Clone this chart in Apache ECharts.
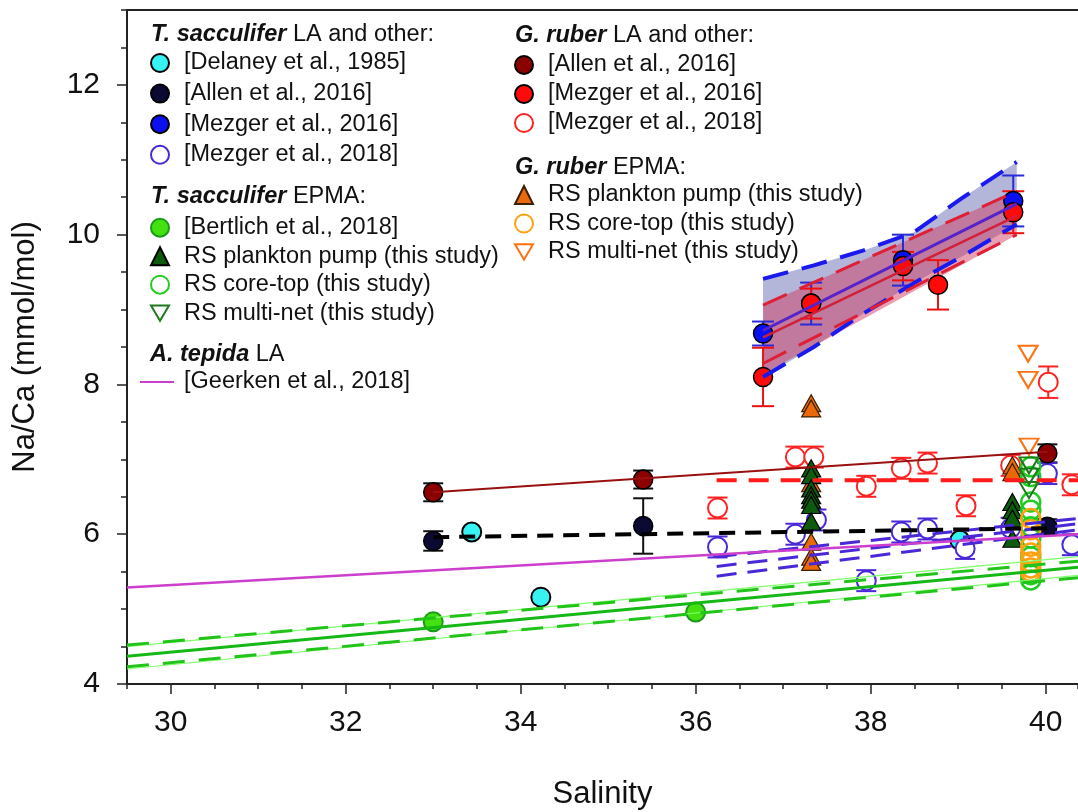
<!DOCTYPE html>
<html><head><meta charset="utf-8">
<script src="https://cdn.jsdelivr.net/npm/echarts@6/dist/echarts.min.js"></script>
<style>html,body{margin:0;padding:0;background:#fff}#c{width:1078px;height:812px}</style>
</head><body><div id="c"></div>
<script>
const FONT = 'Liberation Sans, Arial, Helvetica, sans-serif';
const xTicksMajor = [30, 32, 34, 36, 38, 40];
const yTicksMajor = [4, 6, 8, 10, 12];

// ---- T. sacculifer LA and other ----
const tsDelaney1985 = [[33.44, 6.03], [34.23, 5.16], [39.02, 5.92]];
const tsAllen2016 = [[33.00, 5.91], [35.40, 6.11], [40.02, 6.10]];
const tsAllen2016Err = [0.13, 0.37, 0.10];
const tsMezger2016 = [[36.77, 8.68], [37.32, 9.08], [38.37, 9.66], [39.63, 10.45]];
const tsMezger2016Err = [0.16, 0.28, 0.34, 0.34];
const tsMezger2018 = [[36.25, 5.83], [37.14, 6.00], [37.38, 6.19], [37.95, 5.38], [38.35, 6.03], [38.65, 6.07], [39.08, 5.81], [39.60, 6.08], [40.02, 6.81], [40.30, 5.86]];
const tsMezger2018Err = [0.14, 0.14, 0.14, 0.14, 0.14, 0.14, 0.14, 0.14, 0.14, 0.14];
// ---- T. sacculifer EPMA ----
const tsBertlich2018 = [[33.00, 4.83], [36.00, 4.96]];
const tsPlanktonPump = [[37.32, 6.88], [37.32, 6.79], [37.32, 6.61], [37.32, 6.52], [37.32, 6.46], [37.32, 6.39], [37.32, 6.17], [39.62, 6.43], [39.62, 6.32], [39.62, 6.21], [39.62, 5.94]];
const tsCoreTop = [[39.83, 6.90], [39.83, 6.77], [39.83, 6.43], [39.83, 6.32], [39.83, 6.10], [39.83, 5.95], [39.83, 5.70], [39.83, 5.46], [39.83, 5.39]];
const tsMultiNet = [[39.81, 6.92], [39.81, 6.77], [39.81, 6.59]];
// ---- A. tepida LA (Geerken) ----
const atGeerkenX = [29.5, 40.37];
const atGeerkenY = [5.29, 6.00];
// ---- G. ruber LA and other ----
const grAllen2016 = [[33.00, 6.56], [35.40, 6.73], [40.02, 7.08]];
const grAllen2016Err = [0.12, 0.12, 0.12];
const grMezger2016 = [[36.77, 8.10], [37.32, 9.08], [38.37, 9.58], [38.77, 9.33], [39.63, 10.30]];
const grMezger2016Err = [0.39, 0.20, 0.19, 0.33, 0.28];
const grMezger2018 = [[36.25, 6.35], [37.14, 7.03], [37.35, 7.03], [37.95, 6.64], [38.35, 6.88], [38.65, 6.95], [39.09, 6.38], [39.60, 6.92], [40.03, 8.03], [40.30, 6.66]];
const grMezger2018Err = [0.14, 0.14, 0.14, 0.14, 0.14, 0.14, 0.14, 0.14, 0.21, 0.14];
// ---- G. ruber EPMA ----
const grPlanktonPump = [[37.32, 7.75], [37.32, 7.68], [37.32, 6.68], [37.32, 5.90], [37.32, 5.70], [37.32, 5.63], [39.62, 6.92], [39.62, 6.83]];
const grCoreTop = [[39.83, 6.21], [39.83, 6.06], [39.83, 5.84], [39.83, 5.75], [39.83, 5.63], [39.83, 5.55], [39.83, 5.50]];
const grMultiNet = [[39.80, 8.41], [39.80, 8.06], [39.81, 7.17]];

// ---- regression lines ----
const bertFitX = [29.5, 40.37];
const bertFitMid = [4.37, 5.56];
const bertFitUp = [4.52, 5.64];
const bertFitLo = [4.23, 5.42];
const bertPredUp = [4.50, 5.70];
const bertPredLo = [4.20, 5.45];
const tsAllenFitX = [33.0, 40.02];
const tsAllenFitY = [5.96, 6.08];
const grAllenFitX = [33.0, 40.02];
const grAllenFitY = [6.56, 7.10];
const grMez18FitX = [36.24, 40.37];
const grMez18FitY = [6.72, 6.72];
const tsMez18FitX = [36.24, 40.37];
const tsMez18FitUp = [5.70, 6.21];
const tsMez18FitMid = [5.57, 6.14];
const tsMez18FitLo = [5.44, 6.06];
const tsMez16FitX = [36.77, 39.67];
const tsMez16FitY = [8.72, 10.41];
const tsMez16BandX = [36.77, 37.35, 37.92, 38.49, 39.06, 39.67];
const tsMez16BandUp = [9.41, 9.59, 9.79, 10.03, 10.50, 10.97];
const tsMez16BandLo = [8.10, 8.50, 8.95, 9.35, 9.72, 10.14];
const grMez16FitX = [36.77, 39.67];
const grMez16FitY = [8.63, 10.25];
const grMez16FitUp = [9.06, 10.58];
const grMez16FitLo = [8.28, 10.00];
const grMez16FillLo = [8.14, 10.00];

const legendLabels = {
  tsDelaney: '[Delaney et al., 1985]', tsAllen: '[Allen et al., 2016]', tsMez16: '[Mezger et al., 2016]', tsMez18: '[Mezger et al., 2018]',
  tsBert: '[Bertlich et al., 2018]', tsPump: 'RS plankton pump (this study)', tsCore: 'RS core-top (this study)', tsNet: 'RS multi-net (this study)',
  atGeerken: '[Geerken et al., 2018]',
  grAllen: '[Allen et al., 2016]', grMez16: '[Mezger et al., 2016]', grMez18: '[Mezger et al., 2018]',
  grPump: 'RS plankton pump (this study)', grCore: 'RS core-top (this study)', grNet: 'RS multi-net (this study)'
};

const DOWN_TRI = 'path://M0,0L20,0L10,17Z';

function zip(xs, ys) { return xs.map((x, i) => [x, ys[i]]); }
function errData(arr, err) { return arr.map((p, i) => [p[0], p[1] - err[i], p[1] + err[i]]); }

function scatter(name, data, itemStyle, extra) {
  return Object.assign({ type: 'scatter', name, data, symbol: 'circle', symbolSize: 19,
    itemStyle: Object.assign({ opacity: 1 }, itemStyle), silent: true }, extra || {});
}
function line(data, color, width, type, name) {
  const s = { type: 'line', data, symbol: 'none', showSymbol: false, silent: true,
    itemStyle: { color, opacity: 0 },
    lineStyle: { color, width, type: type || 'solid', cap: 'butt' } };
  if (name) s.name = name;
  return s;
}
function errBars(arr, err, color, width, cap) {
  return {
    type: 'custom', silent: true, data: errData(arr, err), encode: { x: 0, y: [1, 2] },
    renderItem: function (params, api) {
      const x = api.value(0), lo = api.value(1), hi = api.value(2);
      const a = api.coord([x, lo]), b = api.coord([x, hi]);
      const st = { stroke: color, lineWidth: width, fill: null };
      return {
        type: 'group', children: [
          { type: 'line', shape: { x1: a[0], y1: a[1], x2: b[0], y2: b[1] }, style: st },
          { type: 'line', shape: { x1: a[0] - cap, y1: a[1], x2: a[0] + cap, y2: a[1] }, style: st },
          { type: 'line', shape: { x1: b[0] - cap, y1: b[1], x2: b[0] + cap, y2: b[1] }, style: st }
        ]
      };
    }
  };
}
function band(xs, up, lo, fill) {
  return {
    type: 'custom', silent: true, data: [[xs[0], up[0]]], encode: { x: 0, y: 1 },
    renderItem: function (params, api) {
      const points = [];
      for (let i = 0; i < xs.length; i++) points.push(api.coord([xs[i], up[i]]));
      for (let i = xs.length - 1; i >= 0; i--) points.push(api.coord([xs[i], lo[i]]));
      return { type: 'polygon', shape: { points }, style: { fill, stroke: null } };
    }
  };
}

const series = [
  // bands
  band(tsMez16BandX, tsMez16BandUp, tsMez16BandLo, 'rgba(105,110,180,0.5)'),
  band(grMez16FitX, grMez16FitUp, grMez16FillLo, 'rgba(210,55,95,0.48)'),
  // Bertlich fits
  line(zip(bertFitX, bertPredUp), '#7dff6a', 1.2),
  line(zip(bertFitX, bertPredLo), '#7dff6a', 1.2),
  line(zip(bertFitX, bertFitUp), '#22c41a', 3, [22, 14]),
  line(zip(bertFitX, bertFitLo), '#22c41a', 3, [22, 14]),
  line(zip(bertFitX, bertFitMid), '#16b816', 3),
  // Mezger 2018 T. sacc fits
  line(zip(tsMez18FitX, tsMez18FitUp), '#4a28d8', 3, [20, 11]),
  line(zip(tsMez18FitX, tsMez18FitMid), '#4a28d8', 3, [20, 11]),
  line(zip(tsMez18FitX, tsMez18FitLo), '#4a28d8', 3, [20, 11]),
  // Geerken
  line(zip(atGeerkenX, atGeerkenY), '#cc3fcc', 2.5, 'solid', 'atGeerken'),
  // Allen fits
  line(zip(tsAllenFitX, tsAllenFitY), '#000000', 4, [16, 10]),
  line(zip(grAllenFitX, grAllenFitY), '#9a1010', 2),
  // Mezger 2018 G. ruber fit
  line(zip(grMez18FitX, grMez18FitY), '#ff1a1a', 4, [20, 12]),
  // Mezger 2016 fits
  line(zip(tsMez16BandX, tsMez16BandUp), '#1a1aee', 4, [26, 14]),
  line(zip(tsMez16BandX, tsMez16BandLo), '#1a1aee', 4, [26, 14]),
  line(zip(grMez16FitX, grMez16FitUp), '#dd2035', 3, [26, 14]),
  line(zip(grMez16FitX, grMez16FitLo), '#dd2035', 3, [26, 14]),
  line(zip(tsMez16FitX, tsMez16FitY), '#5522cc', 3),
  line(zip(grMez16FitX, grMez16FitY), '#d0203a', 2.5),
  // error bars
  errBars(tsAllen2016, tsAllen2016Err, '#111', 2, 10),
  errBars(grAllen2016, grAllen2016Err, '#111', 2, 10),
  errBars(tsMezger2018, tsMezger2018Err, '#4a28d8', 2, 10),
  errBars(grMezger2018, grMezger2018Err, '#ff2222', 2, 10),
  errBars(tsMezger2016, tsMezger2016Err, '#2a2ad8', 2, 11),
  errBars(grMezger2016, grMezger2016Err, '#ee1111', 2, 11),
  // points
  scatter('tsDelaney', tsDelaney1985, { color: '#36f2f2', borderColor: '#000', borderWidth: 2 }),
  scatter('tsAllen', tsAllen2016, { color: '#0a0a33', borderColor: '#000', borderWidth: 1.5 }),
  scatter('tsMez16', tsMezger2016, { color: '#0a10f0', borderColor: '#000', borderWidth: 1.5 }),
  scatter('tsMez18', tsMezger2018, { color: '#ffffff', borderColor: '#4a28d8', borderWidth: 2 }),
  scatter('tsBert', tsBertlich2018, { color: '#44e010', borderColor: '#1a9a1a', borderWidth: 2 }),
  scatter('grAllen', grAllen2016, { color: '#8b0000', borderColor: '#000', borderWidth: 1.5 }),
  scatter('grMez16', grMezger2016, { color: '#ff0a0a', borderColor: '#000', borderWidth: 1.5 }),
  scatter('grMez18', grMezger2018, { color: '#ffffff', borderColor: '#ff2222', borderWidth: 2 }),
  scatter('grPump', grPlanktonPump, { color: '#ea6a0a', borderColor: '#3a2000', borderWidth: 1.2 }, { symbol: 'triangle', symbolSize: [19, 17] }),
  scatter('tsPump', tsPlanktonPump, { color: '#0d5c0d', borderColor: '#000', borderWidth: 1.2 }, { symbol: 'triangle', symbolSize: [19, 17] }),
  scatter('tsCore', tsCoreTop, { color: 'rgba(255,255,255,0)', borderColor: '#22cc22', borderWidth: 2.5 }),
  scatter('grCore', grCoreTop, { color: 'rgba(255,255,255,0)', borderColor: '#ffa010', borderWidth: 2.5 }),
  scatter('tsNet', tsMultiNet, { color: 'rgba(255,255,255,0)', borderColor: '#1d7a1d', borderWidth: 2 }, { symbol: DOWN_TRI, symbolSize: [19, 16] }),
  scatter('grNet', grMultiNet, { color: 'rgba(255,255,255,0)', borderColor: '#ff7010', borderWidth: 2 }, { symbol: DOWN_TRI, symbolSize: [19, 16] })
];

const legTxt = { fontSize: 23.5, lineHeight: 24, color: '#111', fontFamily: FONT, padding: [0, 0, 0, 10] };
function legend(left, top, gap, names, extra) {
  return Object.assign({
    orient: 'vertical', left, top, itemGap: gap, itemWidth: 18, itemHeight: 18, padding: 0,
    selectedMode: false, textStyle: legTxt, data: names, formatter: n => legendLabels[n]
  }, extra || {});
}

const hdrRich = { i: { fontStyle: 'italic', fontWeight: 'bold', fontSize: 23.5, fontFamily: FONT, fill: '#111' } };
function header(x, y, text) {
  return { type: 'text', x, y, z: 10, silent: true, style: { text, rich: hdrRich, fontSize: 23.5, fontFamily: FONT, fill: '#111', align: 'left', verticalAlign: 'middle' } };
}

const axisCol = '#222';
const option = {
  animation: false,
  backgroundColor: '#ffffff',
  textStyle: { fontFamily: FONT },
  grid: { left: 127, right: 0, top: 10, bottom: 128, containLabel: false, outerBoundsMode: 'none' },
  xAxis: [
    { type: 'value', min: 29.5, max: 40.37, interval: 0.5, position: 'bottom',
      axisLine: { show: true, onZero: false, lineStyle: { color: axisCol, width: 2 } },
      axisTick: { show: true, length: 5, lineStyle: { color: axisCol, width: 1.5 } },
      axisLabel: { show: false }, splitLine: { show: false } },
    { type: 'value', min: 29.5, max: 40.37, position: 'bottom',
      axisLine: { show: false, onZero: false },
      axisTick: { show: true, length: 10, customValues: xTicksMajor, lineStyle: { color: axisCol, width: 1.5 } },
      axisLabel: { show: true, customValues: xTicksMajor, fontSize: 30, margin: 24, color: '#111', fontFamily: FONT },
      splitLine: { show: false },
      name: 'Salinity', nameLocation: 'middle', nameGap: 95,
      nameTextStyle: { fontSize: 31, color: '#111', fontFamily: FONT } },
    { type: 'value', min: 29.5, max: 40.37, position: 'top',
      axisLine: { show: true, onZero: false, lineStyle: { color: axisCol, width: 2 } },
      axisTick: { show: false }, axisLabel: { show: false }, splitLine: { show: false } }
  ],
  yAxis: [
    { type: 'value', min: 4, max: 13, interval: 0.5, position: 'left',
      axisLine: { show: true, onZero: false, lineStyle: { color: axisCol, width: 2 } },
      axisTick: { show: true, length: 6, lineStyle: { color: axisCol, width: 1.5 } },
      axisLabel: { show: false }, splitLine: { show: false } },
    { type: 'value', min: 4, max: 13, position: 'left',
      axisLine: { show: false, onZero: false },
      axisTick: { show: true, length: 10, customValues: yTicksMajor, lineStyle: { color: axisCol, width: 1.5 } },
      axisLabel: { show: true, customValues: yTicksMajor, fontSize: 30, margin: 27, color: '#111', fontFamily: FONT },
      splitLine: { show: false },
      name: 'Na/Ca (mmol/mol)', nameLocation: 'middle', nameGap: 86,
      nameTextStyle: { fontSize: 31, color: '#111', fontFamily: FONT } }
  ],
  legend: [
    legend(150, 51, 6.6, ['tsDelaney', 'tsAllen', 'tsMez16', 'tsMez18']),
    legend(150, 215.7, 4.5, ['tsBert', 'tsPump', 'tsCore', 'tsNet']),
    legend(139, 370, 5, ['atGeerken'], { itemWidth: 34, textStyle: Object.assign({}, legTxt, { padding: [0, 0, 0, 5] }) }),
    legend(514, 53, 5, ['grAllen', 'grMez16', 'grMez18']),
    legend(514, 183, 4.5, ['grPump', 'grCore', 'grNet'])
  ],
  graphic: [
    header(151, 35, '{i|T. sacculifer} LA and other:'),
    header(151, 197, '{i|T. sacculifer} EPMA:'),
    header(150, 355, '{i|A. tepida} LA'),
    header(515, 36, '{i|G. ruber} LA and other:'),
    header(515, 168, '{i|G. ruber} EPMA:')
  ],
  series
};

const chart = echarts.init(document.getElementById('c'), null, { renderer: 'canvas' });
chart.setOption(option);
</script></body></html>
